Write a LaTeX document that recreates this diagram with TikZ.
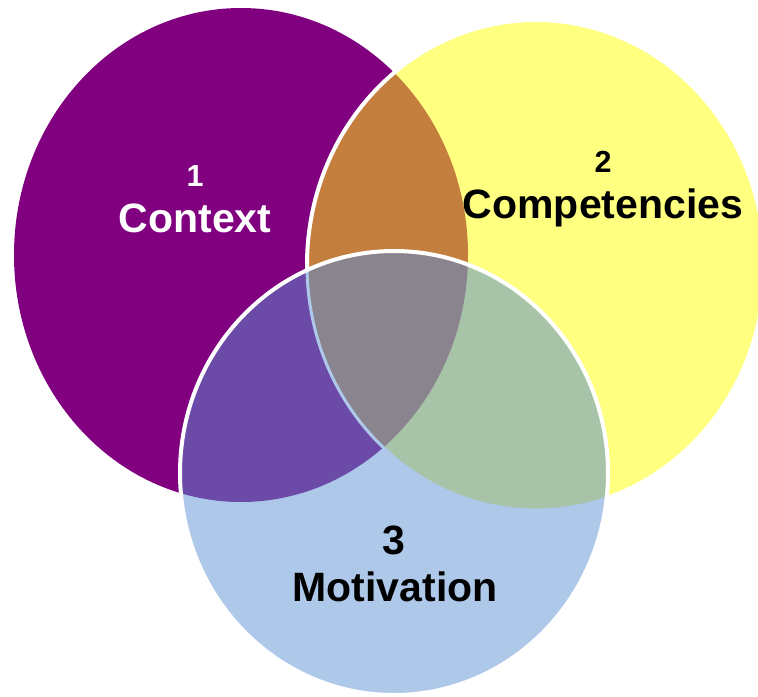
\documentclass[tikz,border=0pt]{standalone}
\usepackage{fontspec}
\setmainfont{Liberation Sans}

\definecolor{ctxpurple}{HTML}{800080}
\definecolor{compyellow}{HTML}{FFFF80}
\definecolor{motblue}{HTML}{AEC8EA}
\definecolor{ctxcomp}{HTML}{C47F3F}
\definecolor{ctxmot}{HTML}{6B4AA8}
\definecolor{compmot}{HTML}{A8C4A8}
\definecolor{allthree}{HTML}{8A848E}

% the three ellipses, in pixel units
\newcommand{\ctxshape}{(241, 255) ellipse (227 and 247)}
\newcommand{\compshape}{(536, 265) ellipse (229 and 245)}
\newcommand{\motshape}{(394, 473) ellipse (214 and 222)}

\begin{document}
\begin{tikzpicture}[x = 0.03cm, y = -0.03cm,
		rim/.style = {draw = white, line width = 0.12cm},
		word/.style = {anchor = base, font = \fontsize{35}{35}\selectfont\bfseries},
		number/.style = {anchor = base, font = \fontsize{26}{26}\selectfont\bfseries}]
			\useasboundingbox (0, 0) rectangle (758, 696);
			% context and competencies
			\fill[ctxpurple] \ctxshape;
			\fill[compyellow] \compshape;
			\begin{scope}
				\clip \ctxshape;
				\fill[ctxcomp] \compshape;
			\end{scope}
			\draw[rim] \compshape;
			% motivation on top
			\fill[motblue] \motshape;
			\begin{scope}
				\clip \motshape;
				\fill[ctxmot] \ctxshape;
				\fill[compmot] \compshape;
				\clip \ctxshape;
				\fill[allthree] \compshape;
			\end{scope}
			\begin{scope}
				\clip \motshape;
				\draw[motblue, line width = 0.09cm] \compshape;
			\end{scope}
			\draw[rim] \motshape;
			% labels
			\node[number, white] (ctxnum) at (195, 186) {1};
			\node[word, white] (ctxword) at (195, 232) {Context};
			\node[number] (compnum) at (603, 172) {2};
			\node[word] (compword) at (603, 218) {Competencies};
			\node[word] (motnum) at (394, 554) {3};
			\node[word] (motword) at (395, 601) {Motivation};
		\end{tikzpicture}
\end{document}
